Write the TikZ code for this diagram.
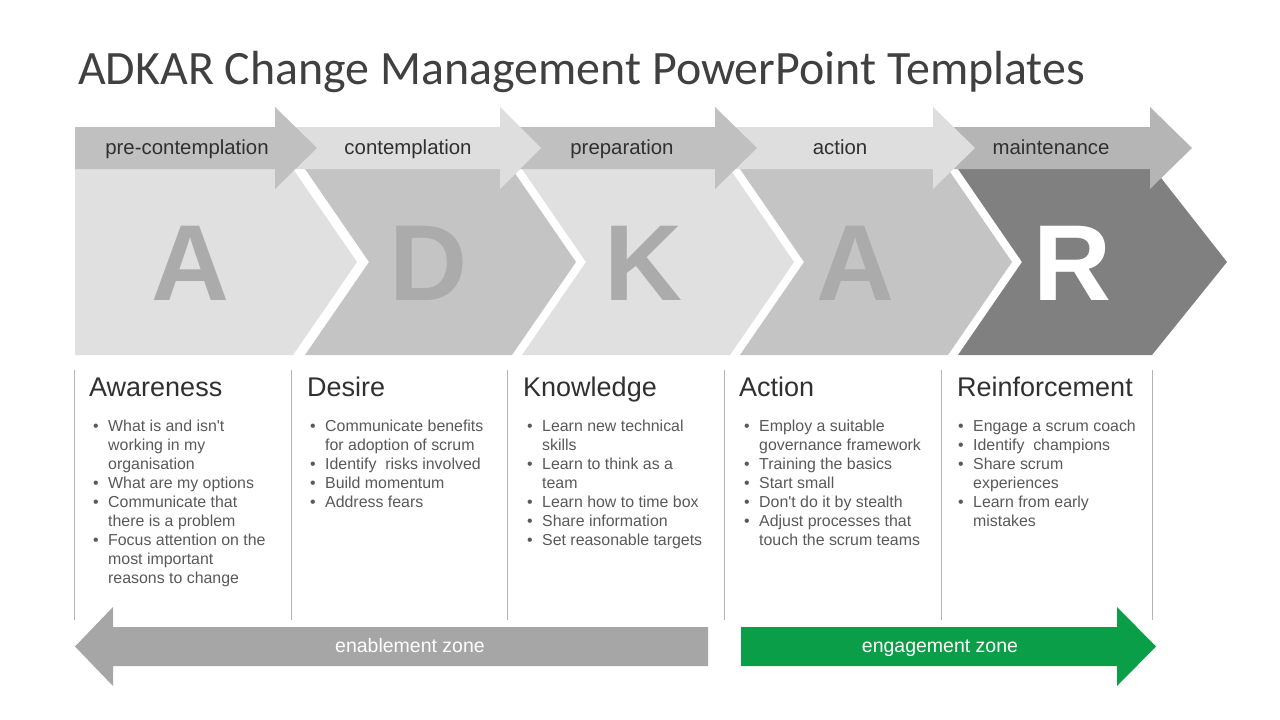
\documentclass[tikz,border=0pt]{standalone}
\usepackage{fontspec}
\setmainfont{Liberation Sans}
\newfontfamily\bodyfont{Liberation Sans}
\newfontfamily\titlefont{Carlito}
\definecolor{titlegray}{HTML}{404040}
\definecolor{headgray}{HTML}{303030}
\definecolor{textgray}{HTML}{595959}
\definecolor{bandA}{HTML}{C0C0C0}
\definecolor{bandB}{HTML}{DEDEDE}
\definecolor{bandC}{HTML}{B5B5B5}
\definecolor{chevLight}{HTML}{E0E0E0}
\definecolor{chevMid}{HTML}{C4C4C4}
\definecolor{chevDark}{HTML}{808080}
\definecolor{lettergray}{HTML}{ABABAB}
\definecolor{linegray}{HTML}{B3B3B3}
\definecolor{zonegray}{HTML}{A6A6A6}
\definecolor{zonegreen}{HTML}{0B9E48}
\newcommand\bitem{\makebox[15pt][l]{\textbullet}}
\newcommand\itemblock[1]{\begin{tabular}[t]{@{}l@{}l@{}}#1\end{tabular}}
\tikzset{
  bandlabel/.style={anchor=base, inner sep=0pt, font=\bodyfont\fontsize{20.4}{24}\selectfont, text=headgray},
  bigletter/.style={anchor=base, inner sep=0pt, font=\bodyfont\fontsize{108}{120}\selectfont\bfseries, text=lettergray},
  colhead/.style={anchor=base west, inner sep=0pt, font=\bodyfont\fontsize{27}{32}\selectfont, text=headgray},
  collist/.style={anchor=north west, inner sep=0pt, font=\bodyfont\fontsize{15.9}{19.1}\selectfont, text=textgray},
  colline/.style={draw=linegray, line width=1pt},
  zonelabel/.style={anchor=base, inner sep=0pt, font=\bodyfont\fontsize{19.5}{23}\selectfont, text=white}
}
\begin{document}
\begin{tikzpicture}[x=1pt,y=-1pt]
\useasboundingbox (0,0) rectangle (1280,720);
\fill[white] (0,0) rectangle (1280,720);

% title
\node[anchor=base west, inner sep=0pt, font=\titlefont\fontsize{47.9}{56}\selectfont, text=titlegray] (title) at (78,84) {ADKAR Change Management PowerPoint Templates};

% chevrons
\fill[chevLight] (75,169) -- (293,169) -- (357,262) -- (293,355) -- (75,355) -- cycle;
\fill[chevMid] (305,169) -- (512,169) -- (576,262) -- (512,355) -- (305,355) -- (369,262) -- cycle;
\fill[chevLight] (522,169) -- (730,169) -- (794,262) -- (730,355) -- (522,355) -- (586,262) -- cycle;
\fill[chevMid] (740,169) -- (948,169) -- (1012,262) -- (948,355) -- (740,355) -- (804,262) -- cycle;
\fill[chevDark] (958,169) -- (1154,169) -- (1227,262) -- (1152,355) -- (958,355) -- (1022,262) -- cycle;

\node[bigletter] (lA) at (190,300) {A};
\node[bigletter] (lD) at (428,300) {D};
\node[bigletter] (lK) at (643,300) {K};
\node[bigletter] (lA2) at (855,300) {A};
\node[bigletter, text=white] (lR) at (1072,300) {R};

% top band arrows (drawn right to left so heads overlap)
\fill[bandC] (950,127) -- (1150,127) -- (1150,107) -- (1192,148) -- (1150,189) -- (1150,169) -- (950,169) -- cycle;
\fill[bandB] (730,127) -- (933,127) -- (933,107) -- (975,148) -- (933,189) -- (933,169) -- (730,169) -- cycle;
\fill[bandA] (510,127) -- (715,127) -- (715,107) -- (757,148) -- (715,189) -- (715,169) -- (510,169) -- cycle;
\fill[bandB] (290,127) -- (500,127) -- (500,107) -- (541,148) -- (500,189) -- (500,169) -- (290,169) -- cycle;
\fill[bandA] (75,127) -- (275,127) -- (275,107) -- (317,148) -- (275,189) -- (275,169) -- (75,169) -- cycle;

\node[bandlabel] (b1) at (187,154) {pre-contemplation};
\node[bandlabel] (b2) at (408,154) {contemplation};
\node[bandlabel] (b3) at (622,154) {preparation};
\node[bandlabel] (b4) at (840,154) {action};
\node[bandlabel] (b5) at (1051,154) {maintenance};

% column separators
\foreach \x in {74,291,507,724,941,1152} \draw[colline] (\x,370) -- (\x,620);

% headings
\node[colhead] (h1) at (89,396) {Awareness};
\node[colhead] (h2) at (307,396) {Desire};
\node[colhead] (h3) at (523,396) {Knowledge};
\node[colhead] (h4) at (739,396) {Action};
\node[colhead] (h5) at (957,396) {Reinforcement};

% lists
\node[collist] (c1) at (93,417.6) {\itemblock{
\bitem & What is and isn't\\
 & working in my\\
 & organisation\\
\bitem & What are my options\\
\bitem & Communicate that\\
 & there is a problem\\
\bitem & Focus attention on the\\
 & most important\\
 & reasons to change}};
\node[collist] (c2) at (310,417.6) {\itemblock{
\bitem & Communicate benefits\\
 & for adoption of scrum\\
\bitem & Identify\ \ risks involved\\
\bitem & Build momentum\\
\bitem & Address fears}};
\node[collist] (c3) at (527,417.6) {\itemblock{
\bitem & Learn new technical\\
 & skills\\
\bitem & Learn to think as a\\
 & team\\
\bitem & Learn how to time box\\
\bitem & Share information\\
\bitem & Set reasonable targets}};
\node[collist] (c4) at (744,417.6) {\itemblock{
\bitem & Employ a suitable\\
 & governance framework\\
\bitem & Training the basics\\
\bitem & Start small\\
\bitem & Don't do it by stealth\\
\bitem & Adjust processes that\\
 & touch the scrum teams}};
\node[collist] (c5) at (958,417.6) {\itemblock{
\bitem & Engage a scrum coach\\
\bitem & Identify\ \ champions\\
\bitem & Share scrum\\
 & experiences\\
\bitem & Learn from early\\
 & mistakes}};

% zone arrows
\fill[zonegray] (708,627) -- (113,627) -- (113,607) -- (75,646.5) -- (113,686) -- (113,666) -- (708,666) -- cycle;
\fill[zonegreen] (741,627) -- (1117,627) -- (1117,607) -- (1156,646.5) -- (1117,686) -- (1117,666) -- (741,666) -- cycle;
\node[zonelabel] (z1) at (410,652) {enablement zone};
\node[zonelabel] (z2) at (940,652) {engagement zone};
\end{tikzpicture}
\end{document}
